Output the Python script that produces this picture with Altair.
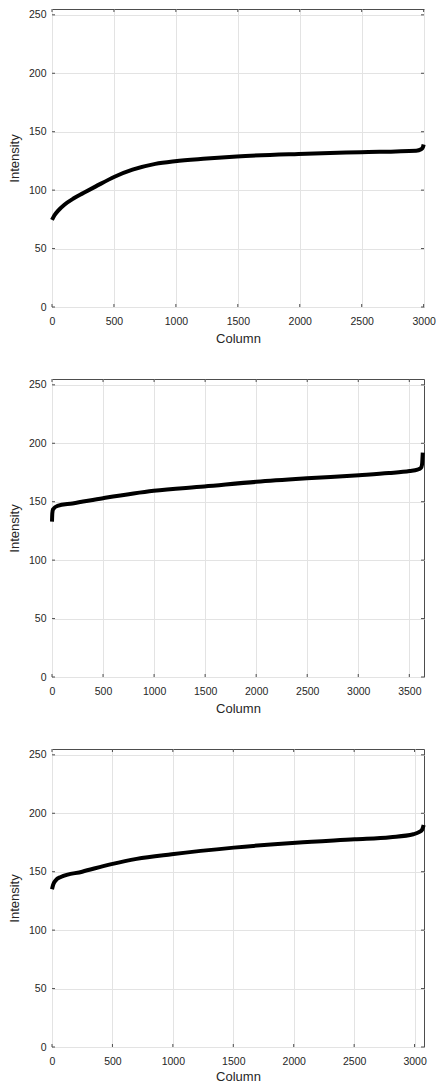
import altair as alt
import pandas as pd

# ---- data ----
p1_col = [0, 20, 50, 100, 176, 253, 350, 505, 650, 834, 992, 1250, 1492, 1990, 2492, 2940, 2980, 2995, 3000]
p1_val = [74.5, 78.5, 82.5, 87.5, 93, 97.5, 103, 111.5, 117.5, 122.5, 124.8, 127, 128.8, 131, 132.5, 133.8, 135, 137, 139]

p2_col = [0, 3, 10, 54, 200, 500, 996, 1491, 2002, 2497, 3008, 3300, 3503, 3580, 3614, 3625, 3632]
p2_val = [133, 140, 143.5, 146.5, 148.5, 153, 159.4, 163, 167, 170, 172.7, 174.5, 176.3, 177.5, 179, 182, 192]

p3_col = [0, 10, 30, 73, 250, 492, 700, 991, 1504, 2018, 2504, 2800, 2990, 3040, 3063, 3075]
p3_val = [135, 139, 142.5, 145.5, 150, 156.5, 161, 165, 170.6, 174.8, 177.7, 179.5, 182, 184, 186, 190]

x1_ticks = [0, 500, 1000, 1500, 2000, 2500, 3000]
x2_ticks = [0, 500, 1000, 1500, 2000, 2500, 3000, 3500]
x3_ticks = [0, 500, 1000, 1500, 2000, 2500, 3000]
y_ticks = [0, 50, 100, 150, 200, 250]

W = 372
H = 298
TICK = 3
FRAME = "#4d4d4d"


def panel(cols, vals, xmax, xticks, title_pad):
    df = pd.DataFrame({"Column": cols, "Intensity": vals})
    xs = alt.Scale(domain=[0, xmax], nice=False, zero=False)
    ys = alt.Scale(domain=[0, 255], nice=False)
    xa = alt.Axis(values=xticks, title="Column", format="d", labelFlush=False,
                  labelPadding=9, titlePadding=title_pad)
    ya = alt.Axis(values=y_ticks, title="Intensity", format="d", labelFlush=False,
                  labelPadding=6, titlePadding=6.5)
    line = alt.Chart(df).mark_line(color="black", strokeWidth=4, interpolate="monotone").encode(
        x=alt.X("Column:Q", scale=xs, axis=xa),
        y=alt.Y("Intensity:Q", scale=ys, axis=ya),
    )
    xt = pd.DataFrame({"Column": xticks})
    yt = pd.DataFrame({"Intensity": y_ticks})
    top = alt.Chart(xt).mark_rule(color=FRAME, strokeWidth=1).encode(
        x=alt.X("Column:Q", scale=xs, axis=xa), y=alt.value(0), y2=alt.value(TICK))
    bot = alt.Chart(xt).mark_rule(color=FRAME, strokeWidth=1).encode(
        x=alt.X("Column:Q", scale=xs, axis=xa), y=alt.value(H), y2=alt.value(H - TICK))
    left = alt.Chart(yt).mark_rule(color=FRAME, strokeWidth=1).encode(
        y=alt.Y("Intensity:Q", scale=ys, axis=ya), x=alt.value(0), x2=alt.value(TICK))
    right = alt.Chart(yt).mark_rule(color=FRAME, strokeWidth=1).encode(
        y=alt.Y("Intensity:Q", scale=ys, axis=ya), x=alt.value(W - TICK), x2=alt.value(W))
    return alt.layer(line, top, bot, left, right).properties(width=W, height=H)


chart = alt.vconcat(
    panel(p1_col, p1_val, 3003, x1_ticks, 6),
    panel(p2_col, p2_val, 3644, x2_ticks, 6),
    panel(p3_col, p3_val, 3078, x3_ticks, 4),
    spacing=32,
).properties(
    padding={"left": 0, "top": 0, "right": 0, "bottom": 0}
).configure_axis(
    labelFont="Liberation Sans",
    labelFontSize=10.5,
    labelColor="#262626",
    titleFont="Liberation Sans",
    titleFontSize=13,
    titleFontWeight="normal",
    titleColor="#262626",
    gridColor="#e3e3e3",
    gridWidth=1,
    domain=False,
    ticks=False,
).configure_view(
    stroke=FRAME,
    strokeWidth=1,
)

chart.save("out.html", embed_options={"renderer": "svg", "actions": False})
